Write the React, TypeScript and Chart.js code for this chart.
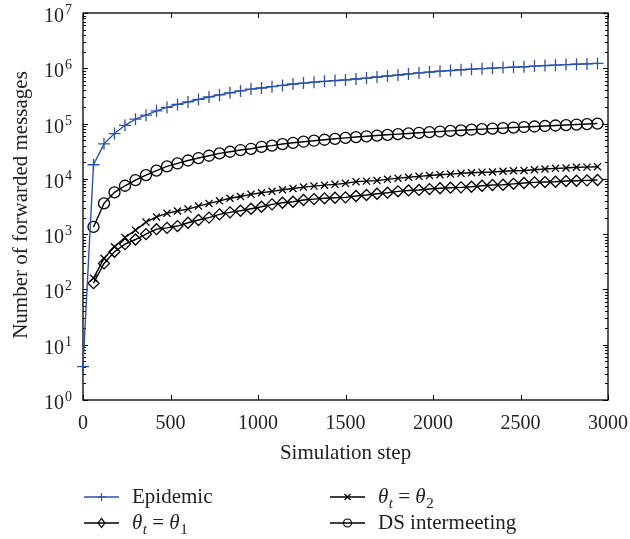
import React, { useEffect, useRef } from 'react';
import { Chart, registerables } from 'chart.js';

Chart.register(...registerables);

// ---------- data ----------
const steps = [60, 120, 180, 240, 300, 360, 420, 480, 540, 600, 660, 720, 780, 840, 900, 960, 1020, 1080, 1140, 1200, 1260, 1320, 1380, 1440, 1500, 1560, 1620, 1680, 1740, 1800, 1860, 1920, 1980, 2040, 2100, 2160, 2220, 2280, 2340, 2400, 2460, 2520, 2580, 2640, 2700, 2760, 2820, 2880, 2940];

const epidemicStartStep = 0;
const epidemicStartValue = 4;
const epidemic = [18000, 43000, 66000, 93000, 120000, 142000, 170000, 196000, 222000, 246000, 273000, 303000, 330000, 360000, 390000, 420000, 440000, 465000, 490000, 520000, 540000, 560000, 580000, 600000, 615000, 640000, 665000, 695000, 725000, 755000, 790000, 825000, 855000, 885000, 910000, 940000, 965000, 985000, 1005000, 1030000, 1050000, 1065000, 1095000, 1120000, 1140000, 1165000, 1185000, 1200000, 1225000];
const theta1 = [130, 295, 480, 660, 800, 1000, 1230, 1300, 1400, 1610, 1800, 1990, 2280, 2480, 2650, 2880, 3130, 3460, 3700, 3850, 4140, 4300, 4450, 4550, 4630, 4900, 5100, 5380, 5620, 5950, 6170, 6300, 6540, 6750, 6920, 7020, 7200, 7500, 7750, 7820, 8130, 8400, 8650, 8750, 8870, 9120, 9240, 9400, 9530];
const theta2 = [160, 365, 590, 870, 1180, 1650, 2050, 2380, 2620, 2840, 3220, 3600, 4000, 4450, 4800, 5250, 5600, 5950, 6350, 6700, 7100, 7400, 7700, 7950, 8300, 8900, 9100, 9300, 9800, 10300, 10700, 11100, 11500, 11900, 12200, 12600, 12900, 13200, 13300, 13700, 14000, 14200, 14600, 15100, 15500, 15700, 16200, 16300, 16600];
const dsIntermeeting = [1350, 3600, 5700, 7500, 9500, 11700, 14100, 16800, 19000, 21500, 23800, 26200, 28900, 30900, 33200, 35000, 38000, 40000, 42600, 44900, 47000, 49000, 51000, 53000, 55000, 57000, 58900, 60700, 62600, 64400, 66300, 68100, 70000, 71800, 73700, 75500, 77400, 79200, 81100, 82900, 84800, 86600, 88500, 90300, 92200, 94000, 96000, 98000, 100000];

const xTickValues = [0, 500, 1000, 1500, 2000, 2500, 3000];
const yExponents = [0, 1, 2, 3, 4, 5, 6, 7];

const xTitle = 'Simulation step';
const yTitle = 'Number of forwarded messages';
const legendEpidemic = 'Epidemic';
const legendDS = 'DS intermeeting';

// ---------- style ----------
const FAMILY = '"Liberation Serif"';
const TEXT = '#222';
const BLUE = 'rgb(46, 82, 168)';
const BLACK = '#000';

const font = (size: number, italic = false) => `${italic ? 'italic ' : ''}${size}px ${FAMILY}, serif`;

function drawMarker(ctx: CanvasRenderingContext2D, style: string, x: number, y: number, r: number, color: string) {
  ctx.save();
  ctx.strokeStyle = color;
  ctx.lineWidth = 1.2;
  ctx.beginPath();
  if (style === 'cross') {
    ctx.moveTo(x - r, y); ctx.lineTo(x + r, y);
    ctx.moveTo(x, y - r); ctx.lineTo(x, y + r);
  } else if (style === 'crossRot') {
    const d = r * 0.75;
    ctx.moveTo(x - d, y - d); ctx.lineTo(x + d, y + d);
    ctx.moveTo(x - d, y + d); ctx.lineTo(x + d, y - d);
  } else if (style === 'rectRot') {
    ctx.moveTo(x, y - r * 1.15); ctx.lineTo(x + r * 0.85, y); ctx.lineTo(x, y + r * 1.15); ctx.lineTo(x - r * 0.85, y); ctx.closePath();
  } else {
    ctx.arc(x, y, r, 0, Math.PI * 2);
  }
  ctx.stroke();
  ctx.restore();
}

function drawThetaLabel(ctx: CanvasRenderingContext2D, x: number, y: number, sub: string) {
  ctx.save();
  ctx.fillStyle = TEXT;
  ctx.textBaseline = 'alphabetic';
  ctx.textAlign = 'left';
  let cx = x;
  ctx.font = font(21, true);
  ctx.fillText('θ', cx, y); cx += ctx.measureText('θ').width;
  ctx.font = font(15, true);
  ctx.fillText('t', cx + 0.5, y + 5); cx += ctx.measureText('t').width + 0.5;
  ctx.font = font(21);
  ctx.fillText(' = ', cx, y); cx += ctx.measureText(' = ').width;
  ctx.font = font(21, true);
  ctx.fillText('θ', cx, y); cx += ctx.measureText('θ').width;
  ctx.font = font(15);
  ctx.fillText(sub, cx + 0.5, y + 5);
  ctx.restore();
}

const decorPlugin = {
  id: 'decor',
  beforeDatasetsDraw(chart: any) {
    const { ctx, chartArea: a, scales } = chart;
    const xs = scales.x;
    const ys = scales.y;
    ctx.save();
    ctx.strokeStyle = BLACK;
    ctx.lineWidth = 1.3;
    ctx.strokeRect(a.left, a.top, a.right - a.left, a.bottom - a.top);
    ctx.lineWidth = 1;
    ctx.beginPath();
    for (const v of xTickValues) {
      const px = Math.round(xs.getPixelForValue(v)) + 0.5;
      ctx.moveTo(px, a.bottom); ctx.lineTo(px, a.bottom - 5);
      ctx.moveTo(px, a.top); ctx.lineTo(px, a.top + 5);
    }
    for (const e of yExponents) {
      const py = Math.round(ys.getPixelForValue(Math.pow(10, e))) + 0.5;
      ctx.moveTo(a.left, py); ctx.lineTo(a.left + 5, py);
      ctx.moveTo(a.right, py); ctx.lineTo(a.right - 5, py);
      if (e < 7) {
        for (let m = 2; m <= 9; m++) {
          const pm = Math.round(ys.getPixelForValue(m * Math.pow(10, e))) + 0.5;
          ctx.moveTo(a.left, pm); ctx.lineTo(a.left + 3, pm);
          ctx.moveTo(a.right, pm); ctx.lineTo(a.right - 3, pm);
        }
      }
    }
    ctx.stroke();

    ctx.fillStyle = TEXT;
    ctx.textBaseline = 'alphabetic';

    // x tick labels
    ctx.font = font(20);
    ctx.textAlign = 'center';
    for (const v of xTickValues) {
      ctx.fillText(String(v), xs.getPixelForValue(v), a.bottom + 29);
    }

    // y tick labels 10^n
    for (const e of yExponents) {
      const py = ys.getPixelForValue(Math.pow(10, e));
      ctx.font = font(14);
      const ew = ctx.measureText(String(e)).width;
      const expRight = a.left - 11;
      ctx.textAlign = 'left';
      ctx.fillText(String(e), expRight - ew, py + 1);
      ctx.font = font(20);
      ctx.textAlign = 'right';
      ctx.fillText('10', expRight - ew - 1, py + 9);
    }

    // axis titles
    ctx.font = font(21);
    ctx.textAlign = 'center';
    ctx.fillText(xTitle, (a.left + a.right) / 2, 459);
    ctx.save();
    ctx.translate(27, 205);
    ctx.rotate(-Math.PI / 2);
    ctx.fillText(yTitle, 0, 0);
    ctx.restore();

    // legend
    const ds = chart.data.datasets;
    const entries = [
      { d: ds[0], x: 84, y: 497, label: legendEpidemic, theta: '' },
      { d: ds[2], x: 330, y: 497, label: '', theta: '2' },
      { d: ds[1], x: 84, y: 523, label: '', theta: '1' },
      { d: ds[3], x: 330, y: 523, label: legendDS, theta: '' },
    ];
    for (const en of entries) {
      ctx.strokeStyle = en.d.borderColor;
      ctx.lineWidth = 1.3;
      ctx.beginPath();
      ctx.moveTo(en.x, en.y); ctx.lineTo(en.x + 35, en.y);
      ctx.stroke();
      drawMarker(ctx, en.d.pointStyle, en.x + 17.5, en.y, 4, en.d.borderColor);
      const tx = en.x + 48;
      if (en.theta) {
        drawThetaLabel(ctx, tx, en.y + 6, en.theta);
      } else {
        ctx.fillStyle = TEXT;
        ctx.font = font(21);
        ctx.textAlign = 'left';
        ctx.fillText(en.label, tx, en.y + 6);
      }
    }
    ctx.restore();
  },
};

export default function App() {
  const ref = useRef<HTMLCanvasElement>(null);
  useEffect(() => {
    if (!ref.current) return;
    const toPts = (xs: number[], ys: number[]) => xs.map((x, i) => ({ x, y: ys[i] }));
    const common = {
      showLine: true,
      borderWidth: 1.4,
      pointBorderWidth: 1.3,
      pointBackgroundColor: 'rgba(0,0,0,0)',
      backgroundColor: 'rgba(0,0,0,0)',
      tension: 0,
      clip: false as any,
      fill: false,
    };
    const chart = new Chart(ref.current, {
      type: 'line',
      data: {
        datasets: [
          {
            ...common,
            label: legendEpidemic,
            data: [{ x: epidemicStartStep, y: epidemicStartValue }, ...toPts(steps, epidemic)],
            borderColor: BLUE,
            pointBorderColor: BLUE,
            pointStyle: 'cross',
            pointRadius: 6,
          },
          {
            ...common,
            label: 'θt = θ1',
            data: toPts(steps, theta1),
            borderColor: BLACK,
            pointBorderColor: BLACK,
            pointStyle: 'rectRot',
            pointRadius: 5.5,
          },
          {
            ...common,
            label: 'θt = θ2',
            data: toPts(steps, theta2),
            borderColor: BLACK,
            pointBorderColor: BLACK,
            pointStyle: 'crossRot',
            pointRadius: 5,
          },
          {
            ...common,
            label: legendDS,
            data: toPts(steps, dsIntermeeting),
            borderColor: BLACK,
            pointBorderColor: BLACK,
            pointStyle: 'circle',
            pointRadius: 5.5,
          },
        ],
      },
      options: {
        responsive: false,
        animation: false,
        devicePixelRatio: 1,
        layout: { padding: { left: 83, right: 22, top: 13, bottom: 139 } },
        plugins: { legend: { display: false }, tooltip: { enabled: false }, title: { display: false } },
        elements: { point: { hoverRadius: 5 } },
        scales: {
          x: { type: 'linear', min: 0, max: 3000, display: false },
          y: { type: 'logarithmic', min: 1, max: 1e7, display: false },
        },
      },
      plugins: [decorPlugin],
    } as any);
    return () => chart.destroy();
  }, []);
  return (
    <div style={{ position: 'fixed', left: 0, top: 0, width: 630, height: 539, background: '#fff' }}>
      <canvas ref={ref} width={630} height={539} style={{ display: 'block' }} />
    </div>
  );
}
